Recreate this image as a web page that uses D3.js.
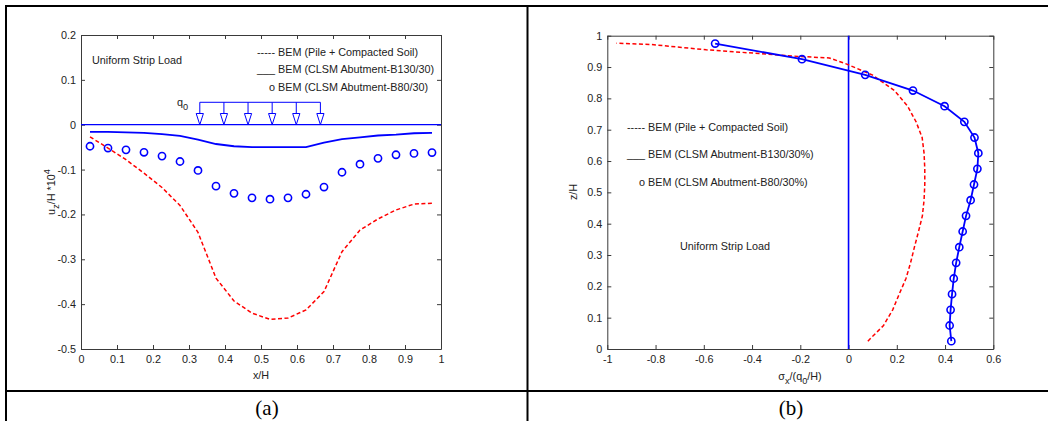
<!DOCTYPE html>
<html><head><meta charset="utf-8">
<script src="https://cdn.jsdelivr.net/npm/d3@7"></script>
<style>
html,body{margin:0;padding:0;background:#fff;}
svg{display:block;}
text{font-family:"Liberation Sans",Arial,Helvetica,sans-serif;}
</style></head><body>
<svg id="c" width="1048" height="421"></svg>
<script>
// ---------- data: panel (a) ----------
const aX = [0.025,0.075,0.125,0.175,0.225,0.275,0.325,0.375,0.425,0.475,0.525,0.575,0.625,0.675,0.725,0.775,0.825,0.875,0.925,0.975];
const aPile = [-0.027,-0.052,-0.078,-0.108,-0.140,-0.180,-0.240,-0.342,-0.393,-0.420,-0.434,-0.431,-0.413,-0.372,-0.283,-0.235,-0.210,-0.190,-0.177,-0.175];
const aB130 = [-0.016,-0.016,-0.017,-0.018,-0.021,-0.025,-0.033,-0.043,-0.048,-0.050,-0.050,-0.050,-0.050,-0.040,-0.032,-0.028,-0.024,-0.022,-0.019,-0.018];
const aB80 = [-0.048,-0.052,-0.056,-0.0615,-0.070,-0.082,-0.102,-0.137,-0.153,-0.163,-0.166,-0.163,-0.155,-0.139,-0.106,-0.088,-0.075,-0.067,-0.064,-0.062];
const aLoadX = [0.33,0.397,0.464,0.531,0.598,0.665];
const aLoadTop = 0.05, aLoadHead = 0.025;
const aXTicks = [0,0.1,0.2,0.3,0.4,0.5,0.6,0.7,0.8,0.9,1];
const aYTicks = [-0.5,-0.4,-0.3,-0.2,-0.1,0,0.1,0.2];
const aLegend = ["BEM (Pile + Compacted Soil)","BEM (CLSM Abutment-B130/30)","BEM (CLSM Abutment-B80/30)"];

// ---------- data: panel (b) ----------
const bZ = [0.025,0.075,0.125,0.175,0.225,0.275,0.325,0.375,0.425,0.475,0.525,0.575,0.625,0.675,0.725,0.775,0.825,0.875,0.925,0.975];
const bB130 = [0.426,0.419,0.423,0.429,0.436,0.446,0.459,0.473,0.487,0.506,0.520,0.534,0.538,0.522,0.480,0.398,0.267,0.069,-0.193,-0.553];
const bB80 = [0.426,0.419,0.423,0.429,0.436,0.446,0.459,0.473,0.487,0.506,0.520,0.534,0.538,0.522,0.480,0.398,0.267,0.069,-0.193,-0.553];
const bPileZ = [0.025,0.075,0.125,0.175,0.225,0.275,0.325,0.375,0.425,0.475,0.525,0.575,0.625,0.675,0.725,0.775,0.825,0.875,0.910,0.929,0.934,0.943,0.955,0.972,0.976];
const bPileS = [0.080,0.145,0.183,0.210,0.238,0.257,0.273,0.290,0.306,0.313,0.316,0.316,0.313,0.305,0.280,0.245,0.190,0.098,-0.010,-0.080,-0.210,-0.370,-0.590,-0.820,-0.962];
const bXTicks = [-1,-0.8,-0.6,-0.4,-0.2,0,0.2,0.4,0.6];
const bYTicks = [0,0.1,0.2,0.3,0.4,0.5,0.6,0.7,0.8,0.9,1];
const bLegend = ["BEM (Pile + Compacted Soil)","BEM (CLSM Abutment-B130/30%)","BEM (CLSM Abutment-B80/30%)"];

const captions = ["(a)","(b)"];

// ---------- drawing ----------
const svg = d3.select("#c");
const BLUE = "#0000ff", RED = "#ff0000", AX = "#3a3a3a", TXT = "#222";
const FS = 10.8;
const fmt = d => String(+d.toFixed(1));

// table frame
const frame = svg.append("g").attr("stroke","#000").attr("stroke-width",2);
frame.append("line").attr("x1",5).attr("x2",1048).attr("y1",6).attr("y2",6);
frame.append("line").attr("x1",6).attr("x2",6).attr("y1",5).attr("y2",421);
frame.append("line").attr("x1",527.5).attr("x2",527.5).attr("y1",5).attr("y2",421);
frame.append("line").attr("x1",5).attr("x2",1048).attr("y1",391).attr("y2",391);

svg.selectAll("text.cap").data(captions).join("text").attr("class","cap")
  .attr("x",(d,i)=>i===0?267:791).attr("y",415).attr("text-anchor","middle")
  .style("font-family","'Liberation Serif','Times New Roman',serif").style("font-size","21px").attr("fill","#000")
  .text(d=>d);

function axes(g, x, y, xt, yt) {
  const [x0,x1] = x.range(), [y0,y1] = y.range();
  const style = s => { s.select(".domain").attr("stroke",AX);
    s.selectAll(".tick line").attr("stroke",AX);
    s.selectAll(".tick text").attr("fill",TXT).style("font-size",FS+"px").style("font-family","'Liberation Sans',Arial,sans-serif"); };
  g.append("g").attr("transform",`translate(0,${y0})`)
    .call(d3.axisBottom(x).tickValues(xt).tickSizeInner(-4).tickSizeOuter(0).tickPadding(6).tickFormat(fmt)).call(style);
  g.append("g").attr("transform",`translate(0,${y1})`)
    .call(d3.axisTop(x).tickValues(xt).tickSizeInner(-4).tickSizeOuter(0).tickFormat("")).call(style);
  g.append("g").attr("transform",`translate(${x0},0)`)
    .call(d3.axisLeft(y).tickValues(yt).tickSizeInner(-4).tickSizeOuter(0).tickPadding(5).tickFormat(fmt)).call(style);
  g.append("g").attr("transform",`translate(${x1},0)`)
    .call(d3.axisRight(y).tickValues(yt).tickSizeInner(-4).tickSizeOuter(0).tickFormat("")).call(style);
}

function label(g, x, y, parts, opts={}) {
  const t = g.append("text").attr("x",x).attr("y",y).attr("fill",TXT)
    .style("font-size",FS+"px").attr("text-anchor",opts.anchor||"start");
  if (opts.rotate) t.attr("transform",`rotate(-90,${x},${y})`);
  let shift = 0;
  parts.forEach(p => {
    const s = t.append("tspan").text(p.t);
    const target = p.sub ? 3.5 : p.sup ? -5 : 0;
    if (target !== shift) { s.attr("dy", target - shift); shift = target; }
    if (p.sub || p.sup) s.style("font-size",(FS*0.85)+"px");
  });
  return t;
}

function legend(g, xText, ys, names) {
  const pre = ["-----","___","o"];
  names.forEach((n,i) => {
    g.append("text").attr("x",xText-3).attr("y",ys[i]).attr("text-anchor","end")
      .attr("fill",TXT).style("font-size",FS+"px").text(pre[i]);
    g.append("text").attr("x",xText).attr("y",ys[i]).attr("fill",TXT)
      .style("font-size",FS+"px").text(n);
  });
}

// ===== panel (a) =====
{
  const g = svg.append("g");
  const x = d3.scaleLinear().domain([0,1]).range([81,441]);
  const y = d3.scaleLinear().domain([-0.5,0.2]).range([349,35]);
  axes(g, x, y, aXTicks, aYTicks);

  // zero line
  g.append("path").attr("d", d3.line()([[x(0),y(0)],[x(1),y(0)]]))
    .attr("stroke",BLUE).attr("stroke-width",1.3).attr("fill","none");

  // uniform load diagram
  const ld = g.append("g").attr("stroke",BLUE).attr("stroke-width",1).attr("fill","none");
  ld.append("path").attr("d", d3.line()([[x(aLoadX[0]),y(aLoadTop)],[x(aLoadX[aLoadX.length-1]),y(aLoadTop)]]));
  ld.selectAll("path.stem").data(aLoadX).join("path").attr("class","stem")
    .attr("d", d => d3.line()([[x(d),y(aLoadTop)],[x(d),y(aLoadHead)]]));
  ld.selectAll("path.head").data(aLoadX).join("path").attr("class","head")
    .attr("d", d => `M${x(d)-3.6},${y(aLoadHead)}L${x(d)+3.6},${y(aLoadHead)}L${x(d)},${y(0)}Z`);
  label(g, 177, 106, [{t:"q"},{t:"0",sub:true}]);

  const line = d3.line().x(d=>x(d[0])).y(d=>y(d[1]));
  g.append("path").attr("d", line(aX.map((v,i)=>[v,aPile[i]])))
    .attr("stroke",RED).attr("stroke-width",1.5).attr("stroke-dasharray","4,2.5").attr("fill","none");
  g.append("path").attr("d", line(aX.map((v,i)=>[v,aB130[i]])))
    .attr("stroke",BLUE).attr("stroke-width",1.8).attr("fill","none");
  g.selectAll("circle").data(aX.map((v,i)=>[v,aB80[i]])).join("circle")
    .attr("cx",d=>x(d[0])).attr("cy",d=>y(d[1])).attr("r",3.6)
    .attr("fill","none").attr("stroke",BLUE).attr("stroke-width",1.6);

  g.append("text").attr("x",92).attr("y",64).attr("fill",TXT).style("font-size",FS+"px").text("Uniform Strip Load");
  legend(g, 278, [56,73,90.5], aLegend);

  label(g, 261, 379, [{t:"x/H"}], {anchor:"middle"});
  label(g, 55, 192, [{t:"u"},{t:"z",sub:true},{t:"/H *10"},{t:"4",sup:true}], {anchor:"middle", rotate:true});
}

// ===== panel (b) =====
{
  const g = svg.append("g");
  const x = d3.scaleLinear().domain([-1,0.6]).range([607.3,993.3]);
  const y = d3.scaleLinear().domain([0,1]).range([349,35.7]);
  axes(g, x, y, bXTicks, bYTicks);

  g.append("path").attr("d", d3.line()([[x(0),y(0)],[x(0),y(1)]]))
    .attr("stroke",BLUE).attr("stroke-width",1.6).attr("fill","none");

  const line = d3.line().x(d=>x(d[0])).y(d=>y(d[1]));
  g.append("path").attr("d", line(bPileS.map((v,i)=>[v,bPileZ[i]])))
    .attr("stroke",RED).attr("stroke-width",1.5).attr("stroke-dasharray","4,2.5").attr("fill","none");
  g.append("path").attr("d", line(bB130.map((v,i)=>[v,bZ[i]])))
    .attr("stroke",BLUE).attr("stroke-width",1.8).attr("fill","none");
  g.selectAll("circle").data(bB80.map((v,i)=>[v,bZ[i]])).join("circle")
    .attr("cx",d=>x(d[0])).attr("cy",d=>y(d[1])).attr("r",3.6)
    .attr("fill","none").attr("stroke",BLUE).attr("stroke-width",1.6);

  legend(g, 648, [130.7,158,185.7], bLegend);
  g.append("text").attr("x",680).attr("y",249.7).attr("fill",TXT).style("font-size",FS+"px").text("Uniform Strip Load");

  label(g, 800, 380, [{t:"σ"},{t:"x",sub:true},{t:"/(q"},{t:"0",sub:true},{t:"/H)"}], {anchor:"middle"});
  label(g, 577, 192, [{t:"z/H"}], {anchor:"middle", rotate:true});
}
</script>
</body></html>
